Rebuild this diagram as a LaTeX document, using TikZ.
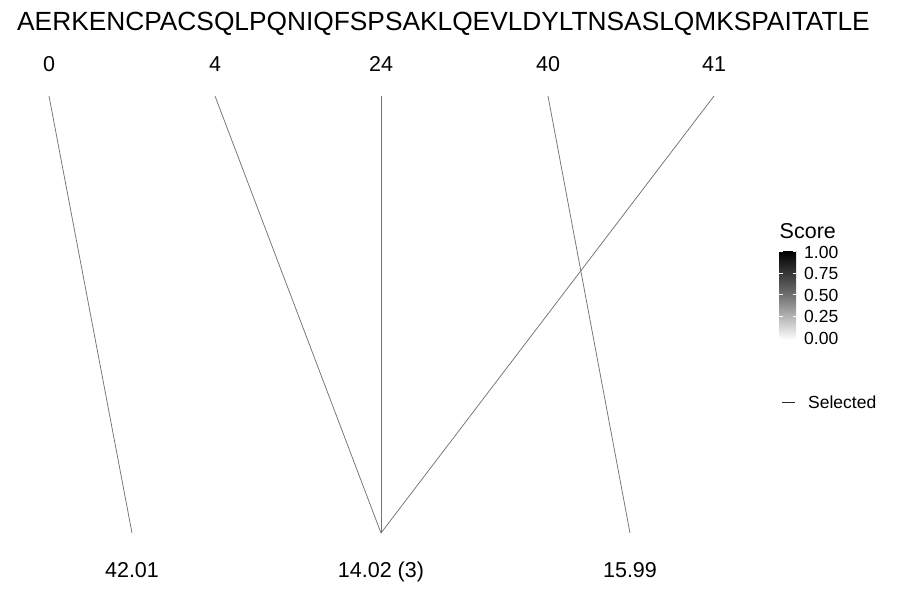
\documentclass[tikz,border=0pt]{standalone}
\usepackage{fontspec}
\setmainfont{Liberation Sans}
\begin{document}
\begin{tikzpicture}[x=1pt,y=-1pt,
  lbl/.style={inner sep=0pt,anchor=base},
  conn/.style={draw=black!55,line width=0.75pt},
  seqfont/.style={font=\fontsize{26.3}{28}\selectfont},
  numfont/.style={font=\fontsize{21.5}{23}\selectfont},
  legtitle/.style={font=\fontsize{21.5}{23}\selectfont,anchor=base west,inner sep=0pt},
  legtick/.style={font=\fontsize{17.5}{19}\selectfont,anchor=base west,inner sep=0pt}]
\useasboundingbox (0,0) rectangle (900,600);
% sequence
\node[lbl,anchor=base west,seqfont] (seq) at (17,30) {AERKENCPACSQLPQNIQFSPSAKLQEVLDYLTNSASLQMKSPAITATLE};
% top labels
\node[lbl,numfont] (t0) at (49,71) {0};
\node[lbl,numfont] (t4) at (215,71) {4};
\node[lbl,numfont] (t24) at (381,71) {24};
\node[lbl,numfont] (t40) at (548,71) {40};
\node[lbl,numfont] (t41) at (714,71) {41};
% line ends
\coordinate (a0) at (49,96);
\coordinate (a4) at (215,96);
\coordinate (a24) at (381,96);
\coordinate (a40) at (548,96);
\coordinate (a41) at (714,96);
\coordinate (b1) at (132,533);
\coordinate (b2) at (381,533);
\coordinate (b3) at (630,533);
% bottom labels
\node[lbl,numfont] (m1) at (132,577) {42.01};
\node[lbl,numfont] (m2) at (381,577) {14.02 (3)};
\node[lbl,numfont] (m3) at (630,577) {15.99};
% connectors
\draw[conn] (a0) -- (b1);
\draw[conn] (a4) -- (b2);
\draw[conn] (a24) -- (b2);
\draw[conn] (a40) -- (b3);
\draw[conn] (a41) -- (b2);
% legend
\node[legtitle] (scoretitle) at (779.5,238) {Score};
\shade[top color=black,bottom color=white,middle color=black!55] (779,251.5) rectangle (796,340);
\foreach \yy in {251.5,273,294.5,316,337.5}{
  \draw[white,line width=0.5pt] (779,\yy) -- (782.5,\yy);
  \draw[white,line width=0.5pt] (792.5,\yy) -- (796,\yy);
}
\node[legtick] (s100) at (804,258) {1.00};
\node[legtick] (s075) at (804,279.5) {0.75};
\node[legtick] (s050) at (804,301) {0.50};
\node[legtick] (s025) at (804,322.5) {0.25};
\node[legtick] (s000) at (804,344) {0.00};
\coordinate (k1) at (782,402);
\coordinate (k2) at (795,402);
\draw[draw=black!85,line width=0.7pt] (k1) -- (k2);
\node[legtick] (selected) at (808,408) {Selected};
\end{tikzpicture}
\end{document}
